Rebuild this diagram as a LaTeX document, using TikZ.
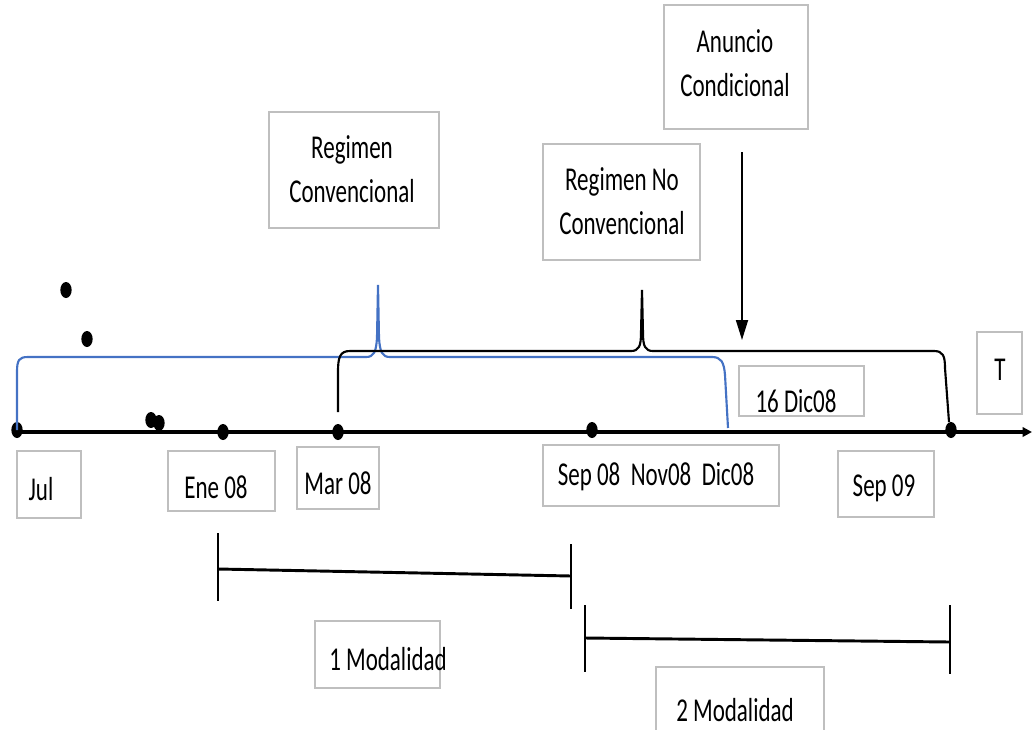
\documentclass[tikz,border=0pt]{standalone}
\usepackage{fontspec}
\setmainfont{Carlito}
\usetikzlibrary{arrows.meta,shapes.geometric}
\definecolor{boxgray}{RGB}{191,191,191}
\definecolor{officeblue}{RGB}{68,114,196}
\tikzset{
  box/.style={draw=boxgray, line width=1.6pt, fill=white, inner sep=0pt},
  txt/.style={font=\fontsize{25}{32.5}\selectfont, xscale=0.69, align=center, inner sep=0pt},
  dot/.style={fill=black, ellipse, inner sep=0pt, minimum width=8.5pt, minimum height=12pt},
  axis/.style={line width=2.4pt},
  brk/.style={line width=1.6pt},
  seg/.style={line width=2.2pt},
  tick/.style={line width=1.1pt},
}
\begin{document}
\begin{tikzpicture}[x=0.75pt,y=-0.75pt]
\useasboundingbox (0,0) rectangle (1032,729);

% boxes
\node[box, minimum width=127.5pt, minimum height=87pt] (rc) at (354,170) {};
\node[txt] at (352,169) {Regimen\\Convencional};
\node[box, minimum width=117.75pt, minimum height=87pt] (rnc) at (621.5,202) {};
\node[txt] at (622,201) {Regimen No\\Convencional};
\node[box, minimum width=108pt, minimum height=93pt] (ac) at (736,67) {};
\node[txt] at (735,63) {Anuncio\\Condicional};
\node[box, minimum width=33.75pt, minimum height=61.5pt] (tb) at (999.5,373) {};
\node[txt] at (1000,370) {T};
\node[box, minimum width=93.75pt, minimum height=37.5pt] (dic16) at (801.5,391) {};
\node[txt] at (796,401) {16 Dic08};

\node[box, minimum width=48pt, minimum height=50.25pt] (jul) at (49,484.5) {};
\node[txt] at (41,489) {Jul};
\node[box, minimum width=80.25pt, minimum height=45pt] (ene) at (221.5,481) {};
\node[txt] at (216,487) {Ene 08};
\node[box, minimum width=61.5pt, minimum height=46.5pt] (mar) at (338,478) {};
\node[txt] at (338,483) {Mar 08};
\node[box, minimum width=177pt, minimum height=45.75pt] (sep08) at (661,475.5) {};
\node[txt] at (656,477) {Sep 08 \ Nov08 \ Dic08};
\node[box, minimum width=72pt, minimum height=49.5pt] (sep09) at (886,484) {};
\node[txt] at (884,488) {Sep 09};
\node[box, minimum width=93.75pt, minimum height=50.25pt] (mod1) at (377.5,654.5) {};
\node[txt] at (388,659) {1 Modalidad};
\node[box, minimum width=126pt, minimum height=50pt] (mod2) at (740,700) {};
\node[txt] at (735,710) {2 Modalidad};

% axis
\coordinate (axstart) at (17,432);
\coordinate (axend) at (1032,432);
\draw[axis, -{Triangle[length=7pt,width=7pt]}] (axstart) -- (axend);

% dots on axis
\node[dot] (djul) at (17,430) {};
\node[dot] (dene) at (223,432) {};
\node[dot] (dmar) at (338,432) {};
\node[dot] (dsep) at (592,430) {};
\node[dot] (dsep9) at (951,430) {};
% loose dots
\node[dot] (x1) at (66,290) {};
\node[dot] (x2) at (87,339) {};
\node[dot] (x3) at (151,420) {};
\node[dot] (x4) at (159,423) {};

% blue bracket
\coordinate (b0) at (17,430);
\coordinate (b1) at (728,428);
\draw[brk, officeblue] (b0) -- (17,372) .. controls (17,360) and (19,357) .. (28,357)
  -- (366,357) .. controls (374,357) and (376,352) .. (377,338) -- (378,285)
  -- (379,338) .. controls (380,352) and (382,357) .. (390,357)
  -- (712,357) .. controls (721,357) and (724,362) .. (725,375) -- (b1);

% black bracket
\coordinate (k0) at (338,412);
\coordinate (k1) at (949,422);
\draw[brk] (k0) -- (338,372) .. controls (338,357) and (340,351) .. (350,351)
  -- (631,351) .. controls (639,351) and (641,346) .. (641,333) -- (642,290)
  -- (643,333) .. controls (643,346) and (645,351) .. (653,351)
  -- (934,351) .. controls (943,351) and (945,356) .. (945,368) -- (k1);

% arrow
\coordinate (a0) at (742,152);
\coordinate (a1) at (742,340);
\draw[line width=1.3pt, -{Triangle[length=15pt,width=9pt]}] (a0) -- (a1);

% modalidad intervals
\coordinate (m1a) at (218,569);
\coordinate (m1b) at (571,576);
\draw[tick] (218,533) -- (218,601);
\draw[tick] (571,544) -- (571,609);
\draw[seg] (m1a) -- (m1b);
\coordinate (m2a) at (585,638);
\coordinate (m2b) at (950,642);
\draw[tick] (585,605) -- (585,672);
\draw[tick] (950,605) -- (950,674);
\draw[seg] (m2a) -- (m2b);
\end{tikzpicture}
\end{document}
